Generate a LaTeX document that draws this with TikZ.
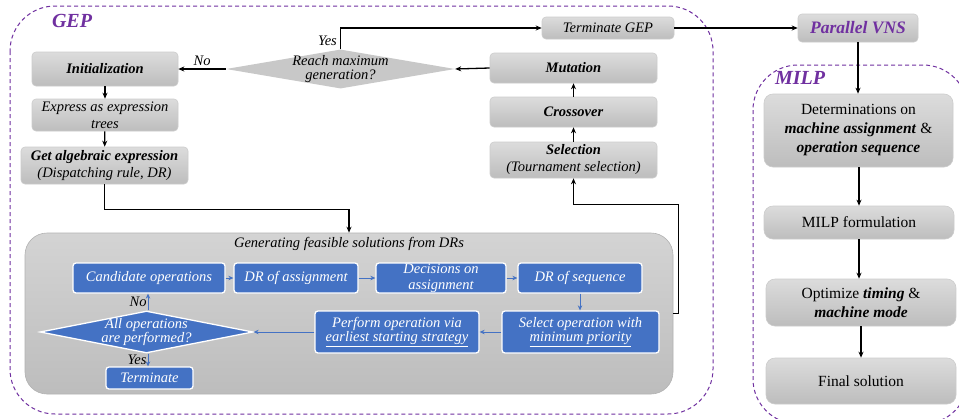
\documentclass[tikz,border=0pt]{standalone}
\usepackage{fontspec}
\setmainfont{Liberation Serif}
\usetikzlibrary{shapes.geometric,arrows.meta,shadings}
\definecolor{purp}{HTML}{7030A0}
\definecolor{blueC}{HTML}{4472C4}
\definecolor{gtop}{HTML}{DCDCDC}
\definecolor{gbot}{HTML}{BDBDBD}
\definecolor{diagray}{HTML}{C8C8C8}
\newcommand\gepfont{\fontsize{14.5}{17}\selectfont}
\newcommand\tightfont{\fontsize{14.5}{14}\selectfont}
\newcommand\decfont{\fontsize{14.5}{16}\selectfont}
\newcommand\milpfont{\fontsize{15.5}{19}\selectfont}
\newcommand\bi[1]{\textbf{\textit{#1}}}
\tikzset{
  gbox/.style={draw=black!20, line width=0.6pt, rounded corners=4pt, top color=gtop, bottom color=gbot, inner sep=0pt, align=center, font=\gepfont},
  mbox/.style={gbox, rounded corners=9pt, font=\milpfont},
  bbox/.style={draw=white, line width=1.3pt, fill=blueC, rounded corners=3pt, text=white, inner sep=0pt, align=center, font=\gepfont\itshape},
  arr/.style={-{Stealth[length=6pt,width=5pt]}, line width=1.3pt},
  barr/.style={-{Stealth[length=5pt,width=4.5pt]}, line width=0.9pt, draw=blueC},
  lbl/.style={font=\gepfont\itshape, inner sep=1pt},
  dashbox/.style={draw=purp, line width=1pt, dash pattern=on 4pt off 3pt, rounded corners=45pt},
  grouplbl/.style={font=\fontsize{20}{22}\selectfont\bfseries\itshape, text=purp, inner sep=0pt},
}
\begin{document}
\begin{tikzpicture}[x=1pt,y=-1pt]
\useasboundingbox (0,0) rectangle (959,418);
\clip (0,0) rectangle (959,418);
\fill[white] (0,0) rectangle (959,418);
% group boxes
\draw[dashbox] (10,6) rectangle (713,414);
\draw[dashbox] (753,65) rectangle (968,424);
\node[grouplbl] (geplbl) at (72,21) {GEP};
\node[grouplbl] (milplbl) at (800,78) {MILP};
% GEP left column
\node[gbox, minimum width=146, minimum height=34] (init) at (105,69) {\bi{Initialization}};
\node[gbox, minimum width=146, minimum height=32] (expr) at (105,115) {\textit{Express as expression}\\\textit{trees}};
\node[gbox, minimum width=167, minimum height=37] (alg) at (104.5,165.5) {\bi{Get algebraic expression}\\\textit{(Dispatching rule, DR)}};
% decision diamond
\node[diamond, fill=diagray, draw=none, minimum width=229, minimum height=39, inner sep=0pt] (dia) at (340.5,69) {};
\node[font=\tightfont\itshape, align=center, inner sep=0pt] (diat) at (dia.center) {Reach maximum\\generation?};
\node[gbox, minimum width=132, minimum height=22] (term) at (608,28) {\textit{Terminate GEP}};
\node[gbox, minimum width=120, minimum height=28, font=\fontsize{17.5}{19}\selectfont, text=purp] (pvns) at (858,28) {\bi{Parallel VNS}};
% right column of GEP
\node[gbox, minimum width=167, minimum height=30] (mut) at (573.5,68) {\bi{Mutation}};
\node[gbox, minimum width=167, minimum height=30] (cross) at (573.5,112) {\bi{Crossover}};
\node[gbox, minimum width=167, minimum height=36] (sel) at (573.5,160) {\bi{Selection}\\\textit{(Tournament selection)}};
% big inner box
\node[draw=black!30, line width=0.6pt, rounded corners=22pt, top color=black!17, bottom color=black!26, minimum width=648, minimum height=161, inner sep=0pt] (big) at (349,313.5) {};
\node[lbl] (bigt) at (349,244) {Generating feasible solutions from DRs};
% blue boxes
\node[bbox, minimum width=152, minimum height=30] (cand) at (149,278) {Candidate operations};
\node[bbox, minimum width=124, minimum height=30] (dra) at (296,278) {DR of assignment};
\node[bbox, minimum width=130, minimum height=30, font=\decfont\itshape] (dec) at (441,278) {Decisions on\\assignment};
\node[bbox, minimum width=124, minimum height=30] (drs) at (580,278) {DR of sequence};
\node[bbox, minimum width=157, minimum height=42, font=\tightfont\itshape] (sel2) at (580.5,332) {Select operation with\\\underline{minimum priority}};
\node[bbox, minimum width=164, minimum height=42, font=\tightfont\itshape] (perf) at (397,332) {Perform operation via\\\underline{earliest starting strategy}};
\node[diamond, fill=blueC, draw=white, line width=1.3pt, minimum width=213, minimum height=42, inner sep=0pt] (dia2) at (146.5,332) {};
\node[font=\tightfont\itshape, text=white, align=center, inner sep=0pt] (dia2t) at (dia2.center) {All operations\\are performed?};
\node[bbox, minimum width=87, minimum height=22] (termb) at (149.5,378) {Terminate};
% MILP boxes
\node[mbox, minimum width=189, minimum height=73] (det) at (858.5,130.5) {Determinations on\\\bi{machine assignment} \&\\\bi{operation sequence}};
\node[mbox, minimum width=190, minimum height=33] (milpf) at (859,222.5) {MILP formulation};
\node[mbox, minimum width=190, minimum height=47] (opt) at (861,302.5) {Optimize \bi{timing} \&\\\bi{machine mode}};
\node[mbox, minimum width=190, minimum height=46] (fin) at (861,381) {Final solution};
% GEP connectors
\draw[arr] (dia.west) -- (init.east) node[lbl, midway, above, yshift=2pt] {No};
\draw[arr] (dia.north) |- (term.west) node[lbl, pos=0.2, left, xshift=-2pt] {Yes};
\draw[arr] (term.east) -- (pvns.west);
\draw[arr] (init) -- (expr);
\draw[arr] (expr) -- (alg);
\draw[arr] (alg.south) -- ++(0,25) -| (big.north);
\draw[arr] (mut.west) -- (dia.east);
\draw[arr] (sel) -- (cross);
\draw[arr] (cross) -- (mut);
\draw[arr] (big.east) -- ++(5,0) -- ++(0,-109) -| (sel.south);
% blue connectors
\draw[barr] (cand) -- (dra);
\draw[barr] (dra) -- (dec);
\draw[barr] (dec) -- (drs);
\draw[barr] (drs) -- (drs |- sel2.north);
\draw[barr] (sel2) -- (perf);
\draw[barr] (perf.west) -- (dia2.east);
\draw[barr] ([xshift=1.5pt]dia2.north) -- ([xshift=1.5pt]dia2.north |- cand.south) node[lbl, midway, left, text=black] {No};
\draw[barr] ([xshift=1.5pt]dia2.south) -- ([xshift=1.5pt]dia2.south |- termb.north) node[lbl, midway, left, text=black] {Yes};
% MILP connectors
\draw[arr] (pvns.south) -- (pvns.south |- det.north);
\draw[arr] ([xshift=0.5pt]det.south) -- ([xshift=0.5pt]det.south |- milpf.north);
\draw[arr] (milpf.south) -- (milpf.south |- opt.north);
\draw[arr] (opt.south) -- (opt.south |- fin.north);
\end{tikzpicture}
\end{document}
